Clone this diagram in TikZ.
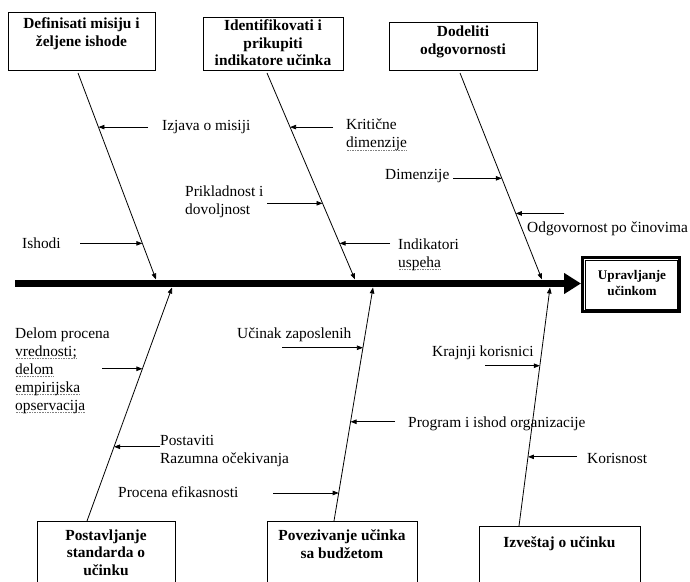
\documentclass[tikz,border=0pt]{standalone}
\usepackage{fontspec}
\setmainfont{Liberation Serif}
\usetikzlibrary{arrows.meta,calc}
\newsavebox\sqbox
\newcommand\sqg[1]{\sbox\sqbox{#1}\leavevmode\rlap{\raisebox{-2.6pt}[0pt][0pt]{\hbox to\wd\sqbox{\color{gray}\xleaders\hbox{\kern0.45pt\rule{0.7pt}{0.7pt}\kern0.45pt}\hfill}}}\usebox\sqbox}
\begin{document}
\begin{tikzpicture}[x=1pt,y=-1pt,
  lbl/.style={inner sep=0pt, font=\fontsize{15.4}{18}\selectfont, align=left},
  btxt/.style={inner sep=0pt, anchor=north, font=\bfseries\fontsize{15.4}{17.5}\selectfont, align=center},
  box/.style={draw, line width=0.8pt, inner sep=0pt},
  bone/.style={line width=0.8pt, -{Triangle[length=6pt,width=4.5pt]}},
  br/.style={line width=0.8pt, -{Triangle[length=6pt,width=4.5pt]}},
  spine/.style={line width=6.5pt, -{Triangle[length=17pt,width=20pt]}}]
\useasboundingbox (0,0) rectangle (690,581);
\clip (0,0) rectangle (690,581);
\fill[white] (0,0) rectangle (690,581);

% --- boxes ---
\node[box, minimum width=147pt, minimum height=58pt] (b1) at (81.5,41) {};
\node[btxt] (b1t) at (81.5,17.5) {Definisati misiju i\\željene ishode};
\node[box, minimum width=140pt, minimum height=53pt] (b2) at (273,43.5) {};
\node[btxt] (b2t) at (273,19.5) {Identifikovati i\\prikupiti\\indikatore učinka};
\node[box, minimum width=148pt, minimum height=48pt] (b3) at (463,46) {};
\node[btxt] (b3t) at (463,26) {Dodeliti\\odgovornosti};

\node[box, minimum width=138pt, minimum height=79pt] (b4) at (106,560.5) {};
\node[btxt] (b4t) at (106,529.5) {Postavljanje\\standarda o\\učinku};
\node[box, minimum width=150pt, minimum height=79pt] (b5) at (342,560.5) {};
\node[btxt] (b5t) at (342,529.5) {Povezivanje učinka\\sa budžetom};
\node[box, minimum width=161pt, minimum height=74pt] (b6) at (559.5,563) {};
\node[btxt] (b6t) at (559.5,536.5) {Izveštaj o učinku};

% --- effect box ---
\node[draw, line width=3pt, minimum width=97pt, minimum height=54pt, inner sep=0pt] (upr) at (631,284.5) {};
\draw[line width=0.9pt] ([xshift=4pt,yshift=-4pt]upr.north west) rectangle ([xshift=-4pt,yshift=4pt]upr.south east);
\node[inner sep=0pt, anchor=north, font=\bfseries\fontsize{13.2}{16}\selectfont, align=center] (uprt) at (632,269.8) {Upravljanje\\učinkom};

% --- spine ---
\coordinate (sL) at (15,283.5);
\draw[spine] (sL) -- (sL -| upr.west);

% --- bone end points ---
\coordinate (k1) at (78,73);   \coordinate (s1) at (156,279.5);
\coordinate (k2) at (267,73);  \coordinate (s2) at (355,279.5);
\coordinate (k3) at (460,73);  \coordinate (s3) at (542,279.5);
\coordinate (k4) at (87,521);  \coordinate (s4) at (172,287.5);
\coordinate (k5) at (334,521); \coordinate (s5) at (373,287.5);
\coordinate (k6) at (519,526); \coordinate (s6) at (550,287.5);

\draw[bone] (k1) -- (s1);
\draw[bone] (k2) -- (s2);
\draw[bone] (k3) -- (s3);
\draw[bone] (k4) -- (s4);
\draw[bone] (k5) -- (s5);
\draw[bone] (k6) -- (s6);

% --- points on bones ---
\coordinate (p1) at ($(k1)!0.262!(s1)$);
\coordinate (p2) at ($(k1)!0.825!(s1)$);
\coordinate (p3) at ($(k2)!0.262!(s2)$);
\coordinate (p4) at ($(k2)!0.631!(s2)$);
\coordinate (p5) at ($(k2)!0.825!(s2)$);
\coordinate (p6) at ($(k3)!0.510!(s3)$);
\coordinate (p7) at ($(k3)!0.680!(s3)$);
\coordinate (p8) at ($(k4)!0.652!(s4)$);
\coordinate (p9) at ($(k4)!0.318!(s4)$);
\coordinate (p10) at ($(k5)!0.742!(s5)$);
\coordinate (p11) at ($(k5)!0.425!(s5)$);
\coordinate (p12) at ($(k5)!0.120!(s5)$);
\coordinate (p13) at ($(k6)!0.672!(s6)$);
\coordinate (p14) at ($(k6)!0.290!(s6)$);

% --- labels ---
\node[lbl, anchor=base west] (l1) at (162,130) {Izjava o misiji};
\node[lbl, anchor=north west] (l2) at (346,118.8) {Kritične\\\sqg{dimenzije}};
\node[lbl, anchor=north west] (l3) at (185,185.6) {Prikladnost i\\dovoljnost};
\node[lbl, anchor=base west] (l4) at (22,248) {Ishodi};
\node[lbl, anchor=north west] (l5) at (398,238.6) {Indikatori\\\sqg{uspeha}};
\node[lbl, anchor=base west] (l6) at (385,179) {Dimenzije};
\node[lbl, anchor=base west] (l7) at (527,232) {Odgovornost po činovima};
\node[lbl, anchor=north west] (l8) at (15,327.6) {Delom procena\\\sqg{vrednosti;}\\\sqg{delom}\\\sqg{empirijska}\\\sqg{opservacija}};
\node[lbl, anchor=north west] (l9) at (160,434.6) {Postaviti\\Razumna očekivanja};
\node[lbl, anchor=base west] (l10) at (118,497) {Procena efikasnosti};
\node[lbl, anchor=base west] (l11) at (237,338) {Učinak zaposlenih};
\node[lbl, anchor=base west] (l12) at (408,427) {Program i ishod organizacije};
\node[lbl, anchor=base west] (l13) at (432,356) {Krajnji korisnici};
\node[lbl, anchor=base west] (l14) at (587,463) {Korisnost};

% --- free ends of the small arrows ---
\coordinate (f1) at (148,0);
\coordinate (f2) at (333,0);
\coordinate (f3) at (267,0);
\coordinate (f4) at (80,0);
\coordinate (f5) at (390,0);
\coordinate (f6) at (453,0);
\coordinate (f7) at (564,0);
\coordinate (f8) at (102,0);
\coordinate (f9) at (160,0);
\coordinate (f10) at (273,0);
\coordinate (f11) at (282,0);
\coordinate (f12) at (395,0);
\coordinate (f13) at (485,0);
\coordinate (f14) at (577,0);

\draw[br] (f1 |- p1) -- (p1);
\draw[br] (f2 |- p3) -- (p3);
\draw[br] (f3 |- p4) -- (p4);
\draw[br] (f4 |- p2) -- (p2);
\draw[br] (f5 |- p5) -- (p5);
\draw[br] (f6 |- p6) -- (p6);
\draw[br] (f7 |- p7) -- (p7);
\draw[br] (f8 |- p8) -- (p8);
\draw[br] (f9 |- p9) -- (p9);
\draw[br] (f10 |- p12) -- (p12);
\draw[br] (f11 |- p10) -- (p10);
\draw[br] (f12 |- p11) -- (p11);
\draw[br] (f13 |- p13) -- (p13);
\draw[br] (f14 |- p14) -- (p14);
\end{tikzpicture}
\end{document}
